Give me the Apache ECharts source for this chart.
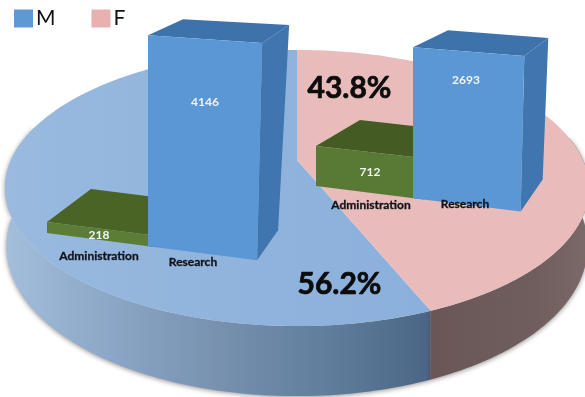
<!DOCTYPE html>
<html>
<head>
<meta charset="utf-8">
<style>html,body{margin:0;padding:0;background:#fff}#c{width:585px;height:397px}</style>
<script src="https://cdn.jsdelivr.net/npm/echarts@6/dist/echarts.min.js"></script>
</head>
<body>
<div id="c"></div>
<script>
const categories = ['Administration', 'Research'];
const maleShare = [56.2];
const femaleShare = [43.8];
const maleCounts = [218, 4146];
const femaleCounts = [712, 2693];

const FONT = 'Lato, "Open Sans", sans-serif';
const disc = { cx: 297, R: 286, A: 99.9, B: 160, C: -0.203 };

function rim(deg) {
  const t = deg * Math.PI / 180, u = Math.sin(t), v = -Math.cos(t), d = 1 + disc.C * v;
  return [disc.cx + disc.R * u / d, (disc.A * v + disc.B) / d, v];
}
function arc(a, b) {
  const pts = [], n = 120;
  for (let i = 0; i <= n; i++) pts.push(rim(a + (b - a) * i / n));
  return pts;
}
function lower(p) {
  return [disc.cx + (p[0] - disc.cx) * 0.995, p[1] + 55 + 15 * p[2]];
}
function hgrad(stops) {
  return { type: 'linear', x: 0, y: 0, x2: 1, y2: 0, global: false,
    colorStops: stops.map((c, i) => ({ offset: i / (stops.length - 1), color: c })) };
}

function sliceRenderer(opts) {
  return function (params, api) {
    const share = api.value(0);
    const fSweep = opts.isFemale ? share * 3.6 : (100 - share) * 3.6;
    const a = opts.isFemale ? 0 : fSweep, b = opts.isFemale ? fSweep : 360;
    const top = arc(a, b).map(p => [p[0], p[1]]);
    const apex = [disc.cx, disc.B];
    const sa = Math.max(a, 80), sb = Math.min(b, 285);
    const front = arc(sa, sb);
    const side = front.map(p => [p[0], p[1]]).concat(front.slice().reverse().map(lower));
    return {
      type: 'group',
      children: [
        { type: 'polygon', shape: { points: side },
          style: { fill: hgrad(opts.sideStops), shadowBlur: 5, shadowColor: 'rgba(60,50,50,0.55)', shadowOffsetY: 1 } },
        { type: 'polygon', shape: { points: [apex].concat(top) },
          style: { fill: hgrad(opts.topStops) } },
        { type: 'text', x: opts.labelX, y: opts.labelY,
          style: { text: share.toFixed(1) + '%', font: 'bold 30px ' + FONT, fill: '#0c0c0c', stroke: '#0c0c0c', lineWidth: 0.7, align: 'center', verticalAlign: 'middle' } }
      ]
    };
  };
}

function barRenderer(look) {
  return function (params, api) {
    const cat = api.value(0), val = api.value(1);
    const i = params.dataIndex, bar = look.bars[i];
    const band = api.size([1, 0])[0];
    const p0 = api.coord([cat, 0]), p1 = api.coord([cat, val]);
    const x0 = api.coord([0, 0])[0] - band / 2;
    const h = p0[1] - p1[1], xL = p0[0] - band / 2, w = band * look.widthRatio;
    const baseY = p0[1] + look.slope * (xL - x0);
    const BL = [xL, baseY], BR = [xL + w, baseY + look.slope * w];
    const TL = [xL, baseY - h], TR = [BR[0] + 0.024 * h, BR[1] - 1.03 * h];
    const add = (p, d) => [p[0] + d[0], p[1] + d[1]];
    return {
      type: 'group',
      children: [
        { type: 'polygon', shape: { points: [TL, TR, add(TR, bar.topR), add(TL, bar.topL)] }, style: { fill: bar.topColor } },
        { type: 'polygon', shape: { points: [TR, add(TR, bar.topR), add(BR, bar.botR), BR] }, style: { fill: bar.sideColor } },
        { type: 'polygon', shape: { points: [TL, TR, BR, BL] }, style: { fill: bar.frontColor } },
        { type: 'text', x: xL + bar.val[0], y: baseY + bar.val[1],
          style: { text: String(val), font: 'bold 12px ' + FONT, fill: '#f2f5f2', align: 'center', verticalAlign: 'middle' } },
        { type: 'text', x: xL + bar.cat[0], y: baseY + bar.cat[1],
          style: { text: categories[cat], font: 'bold 12px ' + FONT, fill: '#10131a', stroke: '#10131a', lineWidth: 0.3, align: 'center', verticalAlign: 'middle' } }
      ]
    };
  };
}

const leftLook = { slope: 0.13, widthRatio: 1.08, bars: [
  { topL: [44, -33], topR: [44, -33], botR: [40, -33], topColor: '#4a6426', sideColor: '#4a6426', frontColor: '#5c7d36', val: [52, 2], cat: [52, 23] },
  { topL: [35, -16], topR: [27, -18], botR: [21, -30], topColor: '#3e72ab', sideColor: '#3f76b0', frontColor: '#5b97d5', val: [57, -144], cat: [45, 16] }
] };
const rightLook = { slope: 0.125, widthRatio: 1.11, bars: [
  { topL: [44, -26], topR: [44, -26], botR: [40, -26], topColor: '#445b24', sideColor: '#445b24', frontColor: '#597a34', val: [54, -14], cat: [55, 19] },
  { topL: [35, -17], topR: [24, -18], botR: [22, -32], topColor: '#3e72ab', sideColor: '#3f76b0', frontColor: '#5b97d5', val: [53, -118], cat: [52, 6] }
] };

const chart = echarts.init(document.getElementById('c'), null, { renderer: 'canvas' });
chart.setOption({
  animation: false,
  backgroundColor: '#ffffff',
  legend: {
    data: ['M', 'F'], left: 9, top: 3, icon: 'rect', itemWidth: 19, itemHeight: 18, itemGap: 36,
    selectedMode: false,
    textStyle: { fontFamily: FONT, fontSize: 21, color: '#111', padding: [0, 0, 0, -2] }
  },
  grid: [
    { left: 47, top: 22, width: 202, height: 211 },
    { left: 316, top: 35, width: 194, height: 151 }
  ],
  xAxis: [
    { type: 'category', gridIndex: 0, data: categories, show: false },
    { type: 'category', gridIndex: 1, data: categories, show: false }
  ],
  yAxis: [
    { type: 'value', gridIndex: 0, min: 0, max: 4146, show: false },
    { type: 'value', gridIndex: 1, min: 0, max: 2693, show: false }
  ],
  series: [
    { name: 'M', type: 'custom', coordinateSystem: 'none', itemStyle: { color: '#5f99d3' }, data: maleShare.map(v => [v]), z: 1,
      renderItem: sliceRenderer({ isFemale: false, labelX: 339.5, labelY: 284,
        sideStops: ['#a4bedc', '#8ba6c6', '#7791af', '#617e9d', '#4b6685'],
        topStops: ['#9abadf', '#90b4dc', '#8bb0dc'] }) },
    { name: 'F', type: 'custom', coordinateSystem: 'none', itemStyle: { color: '#e8b0ae' }, data: femaleShare.map(v => [v]), z: 1,
      renderItem: sliceRenderer({ isFemale: true, labelX: 349.5, labelY: 88,
        sideStops: ['#6a5657', '#6d5a5b', '#705e5f', '#7c6a6b'],
        topStops: ['#e8bcbb', '#e9bcbb'] }) },
    { name: 'M bars', type: 'custom', xAxisIndex: 0, yAxisIndex: 0, z: 2,
      data: maleCounts.map((v, i) => [i, v]), renderItem: barRenderer(leftLook) },
    { name: 'F bars', type: 'custom', xAxisIndex: 1, yAxisIndex: 1, z: 2,
      data: femaleCounts.map((v, i) => [i, v]), renderItem: barRenderer(rightLook) }
  ]
});
</script>
</body>
</html>
